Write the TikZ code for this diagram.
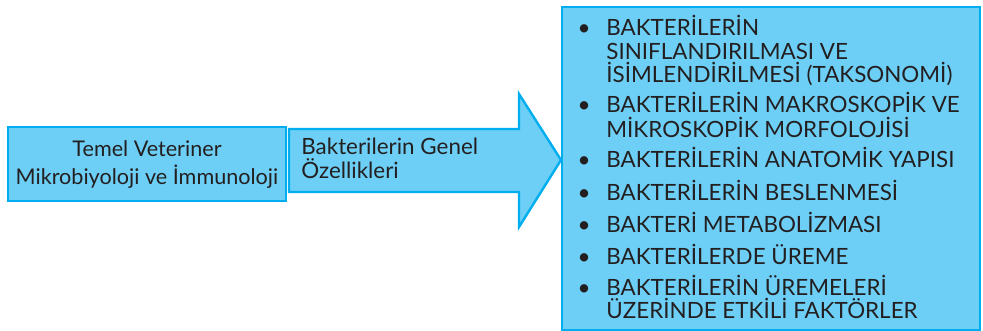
\documentclass[tikz,border=0pt]{standalone}
\usepackage{fontspec}
\setmainfont{Lato}
\definecolor{KutuMavi}{HTML}{6DCFF6}
\definecolor{KutuKenar}{HTML}{00AEEF}
\definecolor{YaziKoyu}{HTML}{231F20}
\tikzset{
  kutu/.style={fill=KutuMavi,draw=KutuKenar,line width=1.2pt,line join=miter},
  yazi/.style={anchor=base west,inner sep=0pt,text=YaziKoyu,font=\fontsize{11.2}{13}\selectfont},
  ortayazi/.style={yazi,anchor=base,font=\fontsize{10.8}{13}\selectfont},
  madde/.style={yazi,anchor=base},
}
\begin{document}
\begin{tikzpicture}[x=0.5pt,y=0.5pt]
\path[use as bounding box] (0,0) rectangle (983,331);
% boxes and arrow
\draw[kutu] (8,130) rectangle (286,204);
\draw[kutu] (289,139) -- (519,139) -- (519,104) -- (561,171) -- (519,237) -- (519,202) -- (289,202) -- cycle;
\draw[kutu] (562,1) rectangle (980,324);
% left box
\node[ortayazi] (temel1) at (147,174) {Temel Veteriner};
\node[ortayazi] (temel2) at (147,146) {Mikrobiyoloji ve İmmunoloji};
% arrow text
\node[yazi] (genel1) at (301,176) {Bakterilerin Genel};
\node[yazi] (genel2) at (301,152) {Özellikleri};
% list
\node[madde] (b1) at (584,295) {\textbullet};
\node[yazi] (m1a) at (606,295) {BAKTERİLERİN};
\node[yazi] (m1b) at (606,271) {SINIFLANDIRILMASI VE};
\node[yazi] (m1c) at (606,248) {İSİMLENDİRİLMESİ (TAKSONOMİ)};
\node[madde] (b2) at (584,218) {\textbullet};
\node[yazi] (m2a) at (606,218) {BAKTERİLERİN MAKROSKOPİK VE};
\node[yazi] (m2b) at (606,193) {MİKROSKOPİK MORFOLOJİSİ};
\node[madde] (b3) at (584,163) {\textbullet};
\node[yazi] (m3) at (606,163) {BAKTERİLERİN ANATOMİK YAPISI};
\node[madde] (b4) at (584,130) {\textbullet};
\node[yazi] (m4) at (606,130) {BAKTERİLERİN BESLENMESİ};
\node[madde] (b5) at (584,98) {\textbullet};
\node[yazi] (m5) at (606,98) {BAKTERİ METABOLİZMASI};
\node[madde] (b6) at (584,66) {\textbullet};
\node[yazi] (m6) at (606,66) {BAKTERİLERDE ÜREME};
\node[madde] (b7) at (584,35) {\textbullet};
\node[yazi] (m7a) at (606,35) {BAKTERİLERİN ÜREMELERİ};
\node[yazi] (m7b) at (606,12) {ÜZERİNDE ETKİLİ FAKTÖRLER};
\end{tikzpicture}
\end{document}
